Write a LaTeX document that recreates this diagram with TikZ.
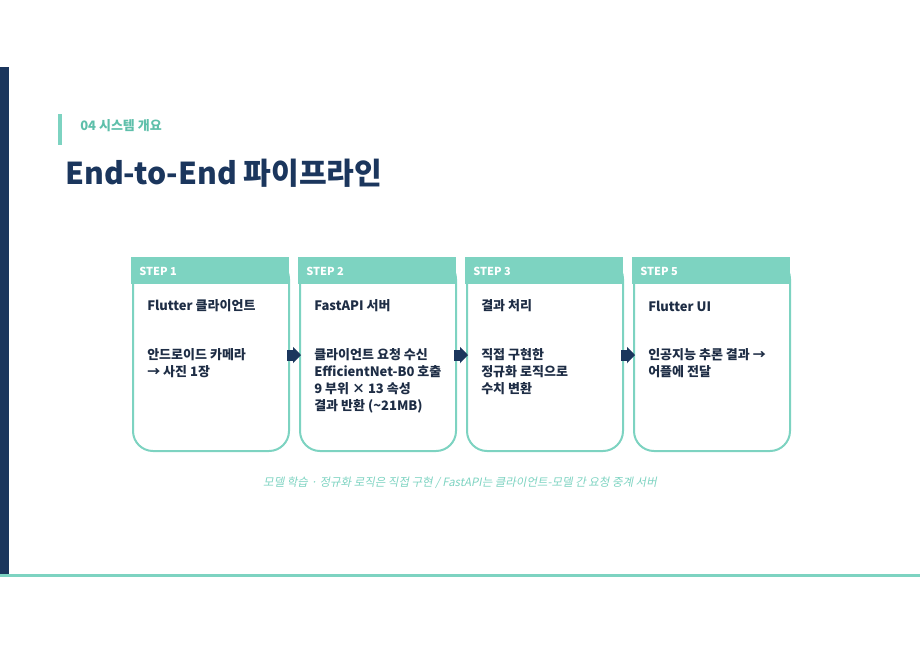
\documentclass[tikz,border=0pt]{standalone}
\usepackage{fontspec}
\setmainfont{Noto Sans CJK KR}
\newfontfamily\notefont{Noto Sans CJK KR}[FakeSlant=0.2]
\usetikzlibrary{arrows.meta}
\definecolor{navy}{HTML}{1B365D}
\definecolor{mint}{HTML}{7DD3C1}
\definecolor{mintdark}{HTML}{5EBFAA}
\definecolor{ink}{HTML}{1E2D45}

\begin{document}
\begin{tikzpicture}[x=0.75pt, y=-0.75pt,
    card/.style={draw=mint, line width=1.5pt, rounded corners=15pt, fill=white,
      minimum width=117pt, minimum height=144pt, anchor=north west, inner sep=0pt},
    band/.style={fill=mint, minimum width=118.5pt, minimum height=20.25pt,
      anchor=north west, inner sep=0pt},
    steplabel/.style={text=white, font=\bfseries\fontsize{8.25}{10}\selectfont,
      anchor=west, inner sep=0pt},
    cardtitle/.style={text=ink, font=\bfseries\fontsize{9.75}{12}\selectfont,
      anchor=west, inner sep=0pt},
    cardbody/.style={text=ink, font=\bfseries\fontsize{9.75}{12.75}\selectfont,
      anchor=north west, align=left, inner sep=0pt}]
  \useasboundingbox (0,0) rectangle (920,651);

  % frame
  \fill[navy] (0,67) rectangle (9,576);
  \fill[mint] (0,574) rectangle (920,577);
  \fill[mint] (58,114) rectangle (62,145);

  \node[anchor=west, inner sep=0pt, text=mintdark, font=\bfseries\fontsize{9.75}{12}\selectfont]
    (section) at (80,126) {04 시스템 개요};
  \node[anchor=west, inner sep=0pt, text=navy, font=\bfseries\fontsize{22.6}{28}\selectfont]
    (title) at (65,173) {End-to-End 파이프라인};

  % cards
  \node[card] (s1) at (132,258) {};
  \node[card] (s2) at (299,258) {};
  \node[card] (s3) at (466,258) {};
  \node[card] (s5) at (633,258) {};

  \node[band] (h1) at ([shift={(-1,-1)}]s1.north west) {};
  \node[band] (h2) at ([shift={(-1,-1)}]s2.north west) {};
  \node[band] (h3) at ([shift={(-1,-1)}]s3.north west) {};
  \node[band] (h5) at ([shift={(-1,-1)}]s5.north west) {};

  \node[steplabel] (l1) at (139,271) {STEP 1};
  \node[steplabel] (l2) at (306,271) {STEP 2};
  \node[steplabel] (l3) at (473,271) {STEP 3};
  \node[steplabel] (l5) at (640,271) {STEP 5};

  \node[cardtitle] (t1) at (147,306) {Flutter 클라이언트};
  \node[cardtitle] (t2) at (314,306) {FastAPI 서버};
  \node[cardtitle] (t3) at (481,306) {결과 처리};
  \node[cardtitle] (t5) at (648,306) {Flutter UI};

  \node[cardbody] (b1) at (147,348) {안드로이드 카메라\\→ 사진 1장};
  \node[cardbody] (b2) at (314,348) {클라이언트 요청 수신\\EfficientNet-B0 호출\\9 부위 × 13 속성\\결과 반환 (\textasciitilde21MB)};
  \node[cardbody] (b3) at (481,348) {직접 구현한\\정규화 로직으로\\수치 변환};
  \node[cardbody] (b5) at (648,348) {인공지능 추론 결과 →\\어플에 전달};

  \node[text=mint, font=\notefont\fontsize{8.6}{10}\selectfont, inner sep=0pt]
    (note) at (460,483) {모델 학습 · 정규화 로직은 직접 구현 / FastAPI는 클라이언트-모델 간 요청 중계 서버};

  \begin{scope}[-{Triangle[length=6pt, width=12pt]}, navy, line width=8.25pt]
    \draw ([xshift=-2.25pt]s1.east) to ([xshift=1.5pt]s2.west);
    \draw ([xshift=-2.25pt]s2.east) to ([xshift=1.5pt]s3.west);
    \draw ([xshift=-2.25pt]s3.east) to ([xshift=1.5pt]s5.west);
  \end{scope}
\end{tikzpicture}
\end{document}
